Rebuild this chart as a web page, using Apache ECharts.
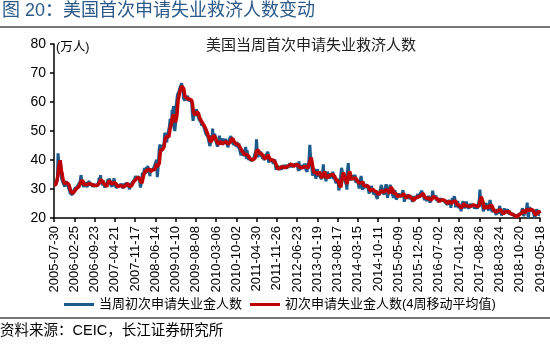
<!DOCTYPE html>
<html>
<head>
<meta charset="utf-8">
<script src="https://cdn.jsdelivr.net/npm/echarts@6/dist/echarts.min.js"></script>
<style>
  html, body { margin: 0; padding: 0; background: #fff; }
  #chart { width: 550px; height: 349px; }
</style>
</head>
<body>
<div id="chart"></div>
<script>
// Weekly initial jobless claims, US (unit: 10k persons), first week 2005-07-30
const firstWeek = '2005-07-30';

const tickLabels = ['2005-07-30','2006-02-25','2006-09-23','2007-04-21','2007-11-17','2008-06-14',
  '2009-01-10','2009-08-08','2010-03-06','2010-10-02','2011-04-30','2011-11-26','2012-06-23',
  '2013-01-19','2013-08-17','2014-03-15','2014-10-11','2015-05-09','2015-12-05','2016-07-02',
  '2017-01-28','2017-08-26','2018-03-24','2018-10-20','2019-05-18'];

const w2005 = [31.3,31.2,31.6,32.2,31.9,32.9,42.3,42.6,36.5,38.2,36.1,34.0,33.0,32.4,31.7,32.2,30.9,32.0,32.7,32.9,31.5,31.9,30.1];
const w2006 = [29.4,28.6,28.2,28.8,28.0,28.9,29.5,29.2,30.2,30.7,
  29.8,30.6,30.3,31.5,31.0,32.2,33.0,34.8,33.2,31.8,
  31.2,30.7,31.8,31.0,32.4,31.5,30.6,32.0,31.4,32.8,
  31.2,31.9,31.3,31.8,30.9,31.3,31.0,31.6,30.8,30.6,
  31.7,30.9,31.4,32.4,33.9,32.1,34.8,31.8,32.5,31.3,
  32.9,31.6];
const w2007 = [30.5,30.0,31.8,30.9,32.3,33.4,32.0,33.6,32.7,31.5,
  31.9,30.8,32.1,32.3,33.6,32.1,31.2,30.4,31.0,30.9,
  31.1,31.5,30.7,31.1,31.8,31.2,31.0,30.2,30.1,31.8,
  30.9,31.9,32.2,31.6,31.9,31.2,30.6,29.9,31.3,32.0,
  31.2,32.3,32.9,32.8,33.1,33.2,34.5,33.4,33.8,34.4,
  34.0,33.8];
const w2008 = [32.6,30.5,31.6,33.4,35.6,34.7,35.4,37.3,35.3,35.3,
  37.5,36.6,38.0,35.6,37.3,34.4,36.8,36.2,37.0,36.3,
  36.8,35.7,38.1,38.2,38.6,40.1,34.1,36.6,40.4,44.2,
  45.3,44.3,43.0,42.6,44.6,45.1,45.5,49.4,49.7,47.8,
  46.1,48.1,48.7,48.4,51.6,54.2,53.3,51.5,57.3,55.4,
  58.6,51.0];
const w2009 = [50.0,52.4,58.9,59.1,62.6,62.3,63.5,64.5,65.0,65.8,
  66.5,67.0,64.0,61.2,61.8,60.5,62.0,60.8,61.5,62.2,
  60.4,61.0,60.2,60.9,61.4,59.8,56.0,53.5,55.6,57.6,
  55.2,56.0,57.4,56.6,55.3,55.1,54.0,53.4,53.8,52.9,
  51.8,52.7,52.2,51.4,51.2,50.8,49.0,48.8,49.2,48.0,
  46.8,45.9];
const w2010 = [44.8,46.0,48.5,47.2,50.8,47.0,46.4,49.0,47.8,46.3,
  45.6,44.6,45.4,45.6,48.4,46.3,45.3,45.2,45.0,47.4,
  45.8,45.9,46.2,47.3,46.1,45.7,45.8,44.4,46.7,46.4,
  47.0,48.2,48.5,46.4,46.6,45.2,45.9,46.2,45.4,44.7,
  46.2,45.3,44.1,45.7,43.6,44.2,41.6,43.9,42.3,42.0,
  42.0,41.5];
const w2011 = [41.3,44.5,40.4,43.4,41.5,40.0,41.5,40.2,39.6,40.5,
  39.8,40.3,39.6,40.6,41.6,41.0,42.9,47.1,43.4,40.9,
  42.4,42.7,41.4,42.9,41.8,41.8,40.5,41.8,40.0,39.5,
  40.8,41.7,41.2,41.4,42.8,39.1,40.1,40.4,40.3,40.2,
  39.7,39.7,38.8,39.3,40.2,38.1,36.6,36.4,38.1,36.6,
  37.2,37.8];
const w2012 = [37.5,38.4,36.6,38.2,37.6,37.3,36.8,37.9,38.2,37.6,
  37.0,38.4,38.1,37.5,38.9,39.4,38.4,37.6,37.8,38.4,
  37.6,38.7,37.8,38.9,38.5,38.6,37.6,36.2,39.5,36.5,
  37.8,37.5,37.3,37.9,38.2,37.1,38.7,38.0,36.8,37.4,
  35.9,38.9,37.0,36.7,45.2,41.6,39.8,37.2,34.6,36.1,
  35.0,36.9];
const w2013 = [37.2,33.5,33.0,36.8,36.6,34.2,36.2,34.5,34.0,33.4,
  33.4,35.7,38.5,34.6,35.2,33.9,32.7,32.5,36.0,34.5,
  35.5,34.5,33.6,35.4,34.8,34.2,36.0,33.4,34.3,33.3,
  33.3,32.0,33.5,33.2,32.4,29.5,30.8,30.9,31.0,37.3,
  36.2,35.0,34.2,33.8,32.7,32.6,31.6,29.8,36.8,38.9,
  34.3,34.2];
const w2014 = [33.0,32.6,32.6,34.8,33.1,33.9,34.1,34.9,32.3,32.0,
  32.6,32.9,32.6,30.2,30.5,33.3,34.5,32.4,29.7,32.6,
  30.0,31.2,31.7,31.2,31.4,31.5,30.4,30.2,28.4,30.2,
  28.9,31.1,30.0,29.8,30.2,28.1,29.1,29.5,28.7,28.7,
  26.6,28.7,28.7,27.8,29.3,29.1,31.4,29.7,29.0,28.9,
  28.1,29.9];
const w2015 = [29.4,31.6,30.8,26.9,28.0,30.6,28.4,31.5,32.0,29.0,
  29.5,28.5,27.0,28.4,29.6,29.3,26.4,26.8,26.9,27.7,
  28.5,27.8,28.1,27.2,27.4,28.4,29.6,28.1,25.6,26.9,
  27.0,27.5,27.9,27.6,28.4,27.7,26.5,26.8,27.7,26.4,
  25.6,25.9,26.2,27.4,27.8,27.3,26.6,27.0,28.3,27.1,
  26.9,28.2];
const w2016 = [27.7,28.4,29.4,27.8,28.5,26.9,26.2,27.2,27.8,25.9,
  26.5,26.5,27.6,26.7,25.3,24.8,25.7,27.4,29.4,27.8,
  26.8,26.7,26.4,27.7,25.9,26.8,25.4,25.3,25.3,26.6,
  26.7,26.4,26.2,26.1,26.3,25.9,26.0,25.2,25.4,24.9,
  24.6,26.1,25.8,26.5,25.4,23.5,25.1,26.8,25.8,25.4,
  27.5,26.5];
const w2017 = [23.7,24.8,23.7,25.9,24.6,23.4,23.9,24.4,22.3,24.3,
  24.1,25.8,25.8,23.4,23.4,24.4,25.7,23.8,23.6,23.3,
  23.4,24.8,24.5,24.1,24.2,24.8,24.8,24.6,23.3,24.5,
  24.0,24.4,23.2,23.5,23.6,26.2,29.8,26.0,27.2,26.0,
  24.3,22.3,23.3,22.9,23.9,25.2,24.0,23.8,23.6,22.6,
  25.0,26.2];
const w2018 = [25.0,23.6,22.0,23.1,23.0,22.1,22.9,22.4,21.0,23.1,
  22.6,23.0,21.5,24.2,23.3,23.2,20.9,21.1,21.1,22.2,
  23.3,22.3,22.2,21.8,21.8,22.8,23.2,21.5,20.9,21.5,
  21.6,21.4,21.0,21.3,20.9,20.5,20.3,20.2,20.8,20.8,
  20.9,21.1,21.6,21.4,21.4,21.7,22.4,23.4,23.1,20.6,
  21.7,21.6];
const w2019 = [22.1,23.1,25.3,21.3,20.0,23.8,23.4,22.6,22.5,22.6,
  22.9,22.1,21.6,20.2,20.1,20.0,23.0,23.0,22.8,21.2,
  21.2,21.1];

const seriesNames = ['当周初次申请失业金人数', '初次申请失业金人数(4周移动平均值)'];

const weekly = [].concat(w2005, w2006, w2007, w2008, w2009, w2010, w2011, w2012,
  w2013, w2014, w2015, w2016, w2017, w2018, w2019);

// one category per reporting week
const t0 = Date.parse(firstWeek + 'T00:00:00Z');
const weeks = weekly.map((_, i) => new Date(t0 + i * 7 * 86400000).toISOString().slice(0, 10));

// 4-week moving average of the weekly claims
const movingAvg4 = weekly.map((_, i) => {
  const win = weekly.slice(Math.max(0, i - 3), i + 1);
  return +(win.reduce((a, b) => a + b, 0) / win.length).toFixed(2);
});

const tickSet = new Set(tickLabels);
const onTick = (idx, val) => tickSet.has(val);

const latin = '"Liberation Sans", Arial, "Noto Sans CJK SC", sans-serif';
const cjk = '"Liberation Sans", "Noto Sans CJK SC", sans-serif';

const chart = echarts.init(document.getElementById('chart'), null, { renderer: 'canvas' });
chart.setOption({
  animation: false,
  backgroundColor: '#ffffff',
  grid: { left: 54, right: 10, top: 44, bottom: 131, containLabel: false },
  xAxis: {
    type: 'category',
    data: weeks,
    boundaryGap: false,
    axisLine: { lineStyle: { color: '#000', width: 1.5 } },
    axisTick: { interval: onTick, length: 4, lineStyle: { color: '#000', width: 1.5 } },
    axisLabel: { interval: onTick, rotate: 90, margin: 8, fontSize: 13, color: '#000', fontFamily: latin },
    splitLine: { show: false }
  },
  yAxis: {
    type: 'value',
    min: 20, max: 80, interval: 10,
    axisLine: { show: true, lineStyle: { color: '#000', width: 1.5 } },
    axisTick: { show: true, length: 4, lineStyle: { color: '#000', width: 1.5 } },
    axisLabel: { fontSize: 14, color: '#000', margin: 8, fontFamily: latin },
    splitLine: { show: false }
  },
  legend: {
    data: seriesNames,
    left: 64, top: 298,
    padding: 0,
    icon: 'rect', itemWidth: 30, itemHeight: 3, itemGap: 8,
    textStyle: { fontSize: 13, color: '#000', fontFamily: cjk }
  },
  series: [
    {
      name: seriesNames[0], type: 'line', data: weekly,
      symbol: 'none', color: '#1b5a8a',
      lineStyle: { color: '#1b5a8a', width: 3 }
    },
    {
      name: seriesNames[1], type: 'line', data: movingAvg4,
      symbol: 'none', color: '#c00000',
      lineStyle: { color: '#c00000', width: 3.5 }
    }
  ],
  graphic: [
    { type: 'text', x: 2, y: 11,
      style: { text: '图 20：美国首次申请失业救济人数变动', fontSize: 18, fontFamily: cjk,
               fill: '#2b5a8a', align: 'left', verticalAlign: 'middle' } },
    { type: 'line', shape: { x1: 0, y1: 27, x2: 550, y2: 27 },
      style: { stroke: '#4a4a4a', lineWidth: 1.5 } },
    { type: 'text', x: 311, y: 46,
      style: { text: '美国当周首次申请失业救济人数', fontSize: 15, fontFamily: cjk,
               fill: '#222', align: 'center', verticalAlign: 'middle' } },
    { type: 'text', x: 56, y: 48,
      style: { text: '(万人)', fontSize: 12.5, fontFamily: cjk,
               fill: '#000', align: 'left', verticalAlign: 'middle' } },
    { type: 'line', shape: { x1: 0, y1: 318, x2: 550, y2: 318 },
      style: { stroke: '#4a4a4a', lineWidth: 1.5 } },
    { type: 'text', x: 0, y: 331,
      style: { text: '资料来源：CEIC，长江证券研究所', fontSize: 14.5, fontFamily: cjk,
               fill: '#000', align: 'left', verticalAlign: 'middle' } }
  ]
});
</script>
</body>
</html>
